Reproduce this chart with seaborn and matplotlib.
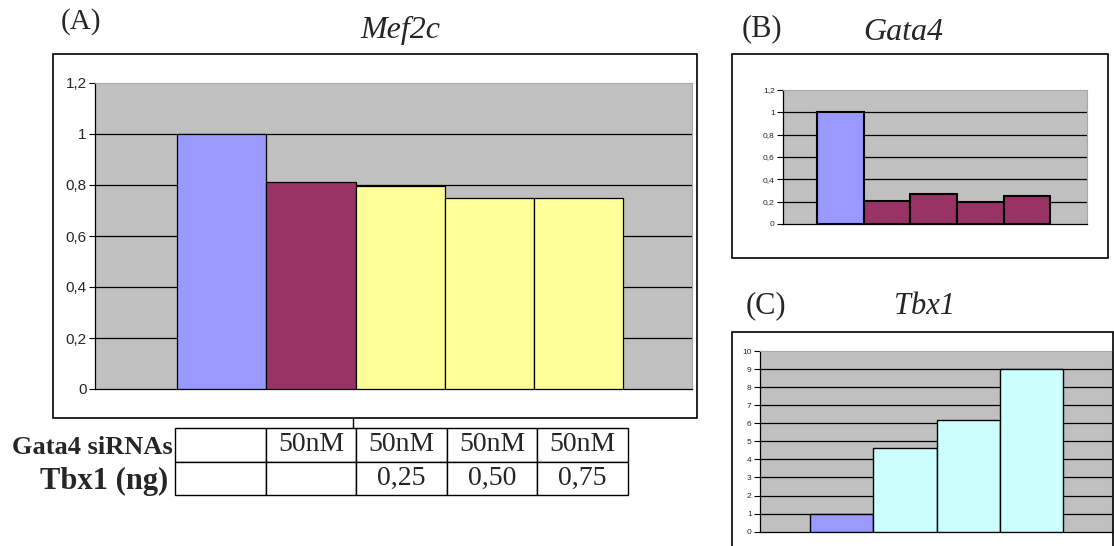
import matplotlib
matplotlib.use("Agg")
import matplotlib.pyplot as plt
from matplotlib.patches import Rectangle
from matplotlib.lines import Line2D
from matplotlib.ticker import FuncFormatter, MultipleLocator
import seaborn as sns

sns.set_theme(style="white")
plt.rcParams["font.family"] = ["Liberation Sans", "DejaVu Sans"]

# ---- data -------------------------------------------------------------
mef2c_groups = ["control", "siGata4", "siGata4 + Tbx1 0,25", "siGata4 + Tbx1 0,50", "siGata4 + Tbx1 0,75"]
mef2c_values = [1.0, 0.81, 0.795, 0.75, 0.75]

gata4_groups = ["control", "siGata4 a", "siGata4 b", "siGata4 c", "siGata4 d"]
gata4_values = [1.0, 0.21, 0.27, 0.20, 0.25]

tbx1_groups = ["control", "Tbx1 0,25", "Tbx1 0,50", "Tbx1 0,75"]
tbx1_values = [1.0, 4.65, 6.2, 9.0]

table_row_labels = ["Gata4 siRNAs", "Tbx1 (ng)"]
gata4_sirna_row = ["", "50nM", "50nM", "50nM", "50nM"]
tbx1_ng_row = ["", "", "0,25", "0,50", "0,75"]

BLUE, MAROON, YELLOW, CYAN = "#9999FF", "#993366", "#FFFF99", "#CCFFFF"
mef2c_colors = [BLUE, MAROON, YELLOW, YELLOW, YELLOW]
gata4_colors = [BLUE, MAROON, MAROON, MAROON, MAROON]
tbx1_colors = [BLUE, CYAN, CYAN, CYAN]

W, H = 1114, 546
fig = plt.figure(figsize=(W / 100, H / 100), dpi=100)


def px_axes(x0, y0, x1, y1):
    """Axes placed by pixel box (top-left origin)."""
    return fig.add_axes([x0 / W, 1 - y1 / H, (x1 - x0) / W, (y1 - y0) / H])


def px_box(x0, y0, x1, y1, lw=1.2):
    fig.patches.append(Rectangle((x0 / W, 1 - y1 / H), (x1 - x0) / W, (y1 - y0) / H,
                                 transform=fig.transFigure, fill=False,
                                 edgecolor="black", linewidth=lw, zorder=0))


def comma_fmt(v, _pos):
    return f"{round(v, 2):g}".replace(".", ",")


def bar_panel(ax, groups, values, colors, ymax, step, xlim, edge_lw, tick_size):
    ax.set_facecolor("#C0C0C0")
    for t in [step * i for i in range(1, int(round(ymax / step)))]:
        ax.axhline(t, color="black", linewidth=0.9, zorder=1)
    sns.barplot(x=groups, y=values, hue=groups, palette=colors, saturation=1,
                width=1.0, edgecolor="black", linewidth=edge_lw, legend=False,
                ax=ax, zorder=3)
    ax.set_ylim(0, ymax)
    ax.set_xlim(*xlim)
    ax.yaxis.set_major_locator(MultipleLocator(step))
    ax.yaxis.set_major_formatter(FuncFormatter(comma_fmt))
    ax.tick_params(axis="y", left=True, length=4, width=0.8, color="black",
                   labelsize=tick_size, pad=2, direction="out")
    ax.tick_params(axis="x", bottom=False, labelbottom=False)
    ax.set_xlabel("")
    ax.set_ylabel("")
    for side in ("top", "right"):
        ax.spines[side].set_color("#A8A8A8")
        ax.spines[side].set_linewidth(0.8)
    for side in ("left", "bottom"):
        ax.spines[side].set_color("black")
        ax.spines[side].set_linewidth(0.9)


# ---- panel A : Mef2c ------------------------------------------------------
px_box(53, 54, 697, 418)
axA = px_axes(95, 83, 692, 389)
bar_panel(axA, mef2c_groups, mef2c_values, mef2c_colors, 1.2, 0.2,
          (-1.42, 5.27), 0.9, 11)

# ---- panel B : Gata4 ------------------------------------------------------
px_box(732, 54, 1108, 258)
axB = px_axes(783, 90, 1087, 224)
bar_panel(axB, gata4_groups, gata4_values, gata4_colors, 1.2, 0.2,
          (-1.23, 5.29), 1.5, 6)

# ---- panel C : Tbx1 -------------------------------------------------------
px_box(732, 332, 1113, 560)
axC = px_axes(760, 351, 1112, 531.7)
bar_panel(axC, tbx1_groups, tbx1_values, tbx1_colors, 10, 1,
          (-1.29, 4.27), 1.0, 6)

# ---- panel titles ---------------------------------------------------------
serif = ["Liberation Serif", "DejaVu Serif"]
def ftext(x, y, s, **kw):
    fig.text(x / W, 1 - y / H, s, ha="center", va="center", family=serif, **kw)

ftext(81, 22, "(A)", fontsize=21)
ftext(400, 30, "Mef2c", fontsize=23, style="italic")
ftext(762, 29, "(B)", fontsize=22)
ftext(903, 32, "Gata4", fontsize=23, style="italic")
ftext(766, 306, "(C)", fontsize=22)
ftext(925, 306, "Tbx1", fontsize=22, style="italic")

# ---- condition table under panel A ---------------------------------------
axT = px_axes(175, 428, 628, 495)
axT.axis("off")
tbl = axT.table(cellText=[gata4_sirna_row, tbx1_ng_row], bbox=[0, 0, 1, 1],
                cellLoc="center")
tbl.auto_set_font_size(False)
for (r, c), cell in tbl.get_celld().items():
    cell.set_edgecolor("black")
    cell.set_linewidth(1.0)
    cell.set_facecolor("white")
    cell.get_text().set_fontsize(20)
    cell.get_text().set_family(serif)

fig.text(173 / W, 1 - 447 / H, table_row_labels[0], ha="right", va="center",
         family=serif, fontsize=19, fontweight="bold")
fig.text(168 / W, 1 - 481 / H, table_row_labels[1], ha="right", va="center",
         family=serif, fontsize=22, fontweight="bold")
fig.lines.append(Line2D([353 / W, 353 / W], [1 - 418 / H, 1 - 428 / H],
                        transform=fig.transFigure, color="black", linewidth=1))

fig.savefig("out.png", dpi=100, facecolor="white")
